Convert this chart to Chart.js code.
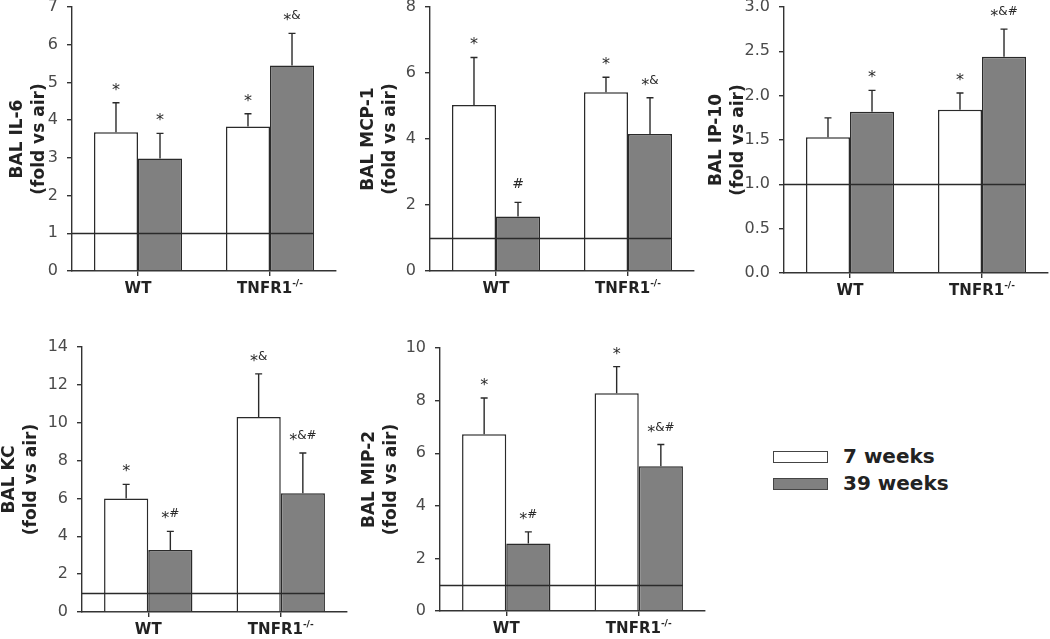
<!DOCTYPE html>
<html>
<head>
<meta charset="utf-8">
<script src="https://cdn.jsdelivr.net/npm/chart.js@4.4.0/dist/chart.umd.min.js"></script>
<style>
  body { margin: 0; background: #fff; width: 1050px; height: 639px; overflow: hidden; position: relative; }
  canvas { position: absolute; }
  #legend { position: absolute; left: 773px; top: 451px; font: bold 20px "DejaVu Sans", sans-serif; color: #222; }
  #legend .row { position: relative; height: 27px; }
  #legend .box { position: absolute; left: 0; top: 0; width: 53px; height: 10px; border: 1.5px solid #444; }
  #legend .txt { position: absolute; left: 70px; top: -7px; white-space: nowrap; }
</style>
</head>
<body>
<canvas id="il6"></canvas>
<canvas id="mcp1"></canvas>
<canvas id="ip10"></canvas>
<canvas id="kc"></canvas>
<canvas id="mip2"></canvas>
<div id="legend"></div>
<script>
// groups on the x axis ("-/-" is drawn as a superscript)
const groups = ['WT', 'TNFR1'];
const groupSup = ['', '-/-'];
const series = ['7 weeks', '39 weeks'];
const seriesColors = ['#ffffff', '#808080'];

// BAL IL-6 (fold vs air)
const il6Week7 = [3.68, 3.83];
const il6Week39 = [2.98, 5.45];
const il6Sem7 = [0.78, 0.34];
const il6Sem39 = [0.67, 0.85];
const il6Sig7 = ['*', '*'];
const il6Sig39 = ['*', '*&'];

// BAL MCP-1
const mcp1Week7 = [5.03, 5.42];
const mcp1Week39 = [1.65, 4.15];
const mcp1Sem7 = [1.44, 0.45];
const mcp1Sem39 = [0.43, 1.1];
const mcp1Sig7 = ['*', '*'];
const mcp1Sig39 = ['#', '*&'];

// BAL IP-10
const ip10Week7 = [1.53, 1.84];
const ip10Week39 = [1.82, 2.44];
const ip10Sem7 = [0.22, 0.19];
const ip10Sem39 = [0.24, 0.31];
const ip10Sig7 = ['', '*'];
const ip10Sig39 = ['*', '*&#'];

// BAL KC
const kcWeek7 = [6.0, 10.3];
const kcWeek39 = [3.27, 6.28];
const kcSem7 = [0.74, 2.28];
const kcSem39 = [0.99, 2.12];
const kcSig7 = ['*', '*&'];
const kcSig39 = ['*#', '*&#'];

// BAL MIP-2
const mip2Week7 = [6.72, 8.28];
const mip2Week39 = [2.57, 5.5];
const mip2Sem7 = [1.38, 1.01];
const mip2Sem39 = [0.44, 0.83];
const mip2Sig7 = ['*', '*'];
const mip2Sig39 = ['*#', '*&#'];

Chart.defaults.font.family = '"DejaVu Sans", sans-serif';

const TITLE_LH = 22;

function drawSig(ctx, s, cx, yTop) {
  if (!s) return;
  ctx.fillStyle = '#2a2a2a';
  ctx.textAlign = 'left';
  ctx.textBaseline = 'alphabetic';
  if (s[0] !== '*') {
    ctx.font = '14px "DejaVu Sans"';
    const w = ctx.measureText(s).width;
    ctx.fillText(s, cx - w / 2, yTop - 14);
    return;
  }
  const rest = s.slice(1);
  ctx.font = '16px "DejaVu Sans"';
  const w1 = ctx.measureText('*').width;
  ctx.font = '12px "DejaVu Sans"';
  const w2 = rest ? ctx.measureText(rest).width : 0;
  const x0 = cx - (w1 + w2) / 2;
  ctx.font = '16px "DejaVu Sans"';
  ctx.fillText('*', x0, yTop - 8);
  if (rest) {
    ctx.font = '12px "DejaVu Sans"';
    ctx.fillText(rest, x0 + w1, yTop - 14);
  }
}

const decor = {
  id: 'decor',
  afterDatasetsDraw(chart) {
    const {ctx, chartArea, scales: {y}} = chart;
    ctx.save();
    ctx.strokeStyle = '#2a2a2a';
    ctx.lineWidth = 1.4;
    chart.data.datasets.forEach((ds, i) => {
      chart.getDatasetMeta(i).data.forEach((bar, j) => {
        const yTop = y.getPixelForValue(ds.data[j] + ds.sem[j]);
        ctx.beginPath();
        ctx.moveTo(bar.x, bar.y);
        ctx.lineTo(bar.x, yTop);
        ctx.moveTo(bar.x - 3.5, yTop);
        ctx.lineTo(bar.x + 3.5, yTop);
        ctx.stroke();
        drawSig(ctx, ds.sig[j], bar.x, yTop);
      });
    });
    // line at fold = 1 (air level)
    const last = chart.getDatasetMeta(chart.data.datasets.length - 1).data;
    const lastBar = last[last.length - 1];
    const y1 = Math.round(y.getPixelForValue(1)) + 0.5;
    ctx.beginPath();
    ctx.moveTo(chartArea.left, y1);
    ctx.lineTo(lastBar.x + lastBar.width / 2, y1);
    ctx.stroke();
    ctx.restore();
  },
  afterDraw(chart) {
    const {ctx, scales: {x}} = chart;
    ctx.save();
    ctx.fillStyle = '#222';
    ctx.textBaseline = 'middle';
    ctx.textAlign = 'left';
    groups.forEach((g, i) => {
      const cx = x.getPixelForTick(i);
      const cy = x.top + 18;
      ctx.font = 'bold 15px "DejaVu Sans"';
      const w1 = ctx.measureText(g).width;
      ctx.font = 'bold 9px "DejaVu Sans"';
      const w2 = groupSup[i] ? ctx.measureText(groupSup[i]).width : 0;
      const x0 = cx - (w1 + w2) / 2;
      ctx.font = 'bold 15px "DejaVu Sans"';
      ctx.fillText(g, x0, cy);
      if (groupSup[i]) {
        ctx.font = 'bold 9px "DejaVu Sans"';
        ctx.fillText(groupSup[i], x0 + w1, cy - 5);
      }
    });
    ctx.restore();
  }
};

function panel(id, title, week7, week39, sem7, sem39, sig7, sig39, yMax, step, geo) {
  const canvas = document.getElementById(id);
  const cLeft = Math.round(geo.titleX - TITLE_LH / 2);
  const cTop = Math.round(geo.top) - 20;
  const W = Math.round(geo.right) - cLeft + 6;
  const H = Math.round(geo.bottom) - cTop + 40;
  canvas.width = W;
  canvas.height = H;
  canvas.style.left = cLeft + 'px';
  canvas.style.top = cTop + 'px';
  canvas.style.width = W + 'px';
  canvas.style.height = H + 'px';
  const yWidth = Math.round(geo.axisX) - cLeft;

  return new Chart(canvas, {
    type: 'bar',
    data: {
      labels: groups,
      datasets: [
        {label: series[0], data: week7, sem: sem7, sig: sig7, backgroundColor: seriesColors[0]},
        {label: series[1], data: week39, sem: sem39, sig: sig39, backgroundColor: seriesColors[1]}
      ]
    },
    options: {
      responsive: false,
      animation: false,
      layout: {padding: {top: 20, right: 6, bottom: 0, left: 0}},
      datasets: {
        bar: {borderColor: '#2a2a2a', borderWidth: 1.5, categoryPercentage: 0.667, barPercentage: 1}
      },
      plugins: {legend: {display: false}, tooltip: {enabled: false}},
      scales: {
        x: {
          type: 'category',
          offset: true,
          grid: {offset: false, drawOnChartArea: false, tickLength: 5, color: '#333', lineWidth: 1.4},
          border: {color: '#333', width: 1.4},
          ticks: {display: false},
          afterFit(s) { s.height = 40; }
        },
        y: {
          min: 0,
          max: yMax,
          grid: {drawOnChartArea: false, tickLength: 5, color: '#333', lineWidth: 1.4},
          border: {color: '#333', width: 1.4},
          ticks: {
            stepSize: step,
            padding: 9,
            color: '#4a4a4a',
            font: {size: 16},
            callback: v => step < 1 ? v.toFixed(1) : v
          },
          title: {
            display: true,
            text: [title, '(fold vs air)'],
            color: '#222',
            padding: 0,
            font: {size: 17, weight: 'bold', lineHeight: TITLE_LH / 17}
          },
          afterFit(s) { s.width = yWidth; }
        }
      }
    },
    plugins: [decor]
  });
}

panel('il6', 'BAL IL-6', il6Week7, il6Week39, il6Sem7, il6Sem39, il6Sig7, il6Sig39, 7, 1,
  {axisX: 72, right: 336, top: 7, bottom: 271, titleX: 18});
panel('mcp1', 'BAL MCP-1', mcp1Week7, mcp1Week39, mcp1Sem7, mcp1Sem39, mcp1Sig7, mcp1Sig39, 8, 2,
  {axisX: 430, right: 694, top: 7, bottom: 271, titleX: 369});
panel('ip10', 'BAL IP-10', ip10Week7, ip10Week39, ip10Sem7, ip10Sem39, ip10Sig7, ip10Sig39, 3, 0.5,
  {axisX: 784, right: 1048, top: 7, bottom: 273, titleX: 717});
panel('kc', 'BAL KC', kcWeek7, kcWeek39, kcSem7, kcSem39, kcSig7, kcSig39, 14, 2,
  {axisX: 82, right: 347, top: 347, bottom: 612, titleX: 10});
panel('mip2', 'BAL MIP-2', mip2Week7, mip2Week39, mip2Sem7, mip2Sem39, mip2Sig7, mip2Sig39, 10, 2,
  {axisX: 440, right: 705, top: 348, bottom: 611, titleX: 370});

// legend
const legend = document.getElementById('legend');
series.forEach((name, i) => {
  const row = document.createElement('div');
  row.className = 'row';
  row.innerHTML = '<div class="box" style="background:' + seriesColors[i] + '"></div><div class="txt">' + name + '</div>';
  legend.appendChild(row);
});
</script>
</body>
</html>
